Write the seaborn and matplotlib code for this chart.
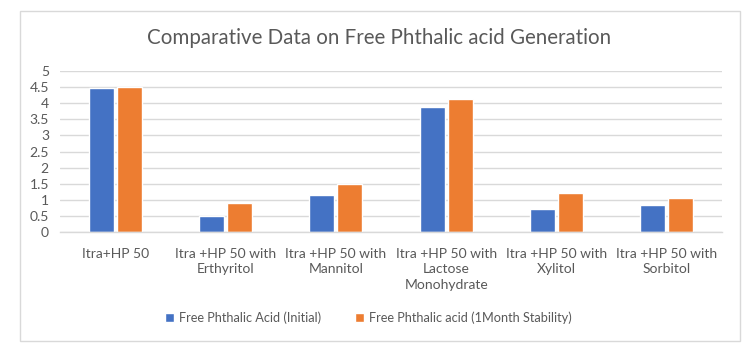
import matplotlib
matplotlib.use("Agg")
import matplotlib.pyplot as plt
import seaborn as sns
import pandas as pd
from matplotlib.patches import Rectangle

categories = ["Itra+HP 50", "Itra +HP 50 with\nErthyritol", "Itra +HP 50 with\nMannitol",
              "Itra +HP 50 with\nLactose\nMonohydrate", "Itra +HP 50 with\nXylitol",
              "Itra +HP 50 with\nSorbitol"]
series_names = ["Free Phthalic Acid (Initial)", "Free Phthalic acid (1Month Stability)"]
initial = [4.45, 0.50, 1.15, 3.88, 0.72, 0.85]
stability = [4.51, 0.91, 1.48, 4.12, 1.22, 1.06]
yticks = [0, 0.5, 1, 1.5, 2, 2.5, 3, 3.5, 4, 4.5, 5]
ytick_labels = ["0", "0.5", "1", "1.5", "2", "2.5", "3", "3.5", "4", "4.5", "5"]
title = "Comparative Data on Free Phthalic acid Generation"

df = pd.DataFrame({
    "Category": categories * 2,
    "Series": [series_names[0]] * len(categories) + [series_names[1]] * len(categories),
    "Value": initial + stability,
})

sns.set_theme(style="white")
plt.rcParams["font.family"] = ["Lato", "DejaVu Sans"]
text_color = "#595959"

fig = plt.figure(figsize=(7.52, 3.47), dpi=100)
ax = fig.add_axes([60 / 752, 1 - 232.3 / 347, 662 / 752, 161.6 / 347])

sns.barplot(data=df, x="Category", y="Value", hue="Series", order=categories,
            hue_order=series_names, palette=["#4472C4", "#ED7D31"],
            width=0.51, gap=0.11, ax=ax, legend=True, saturation=1)

ax.set_ylim(0, 5)
ax.set_yticks(yticks)
ax.set_yticklabels(ytick_labels)
ax.yaxis.grid(True, color="#D9D9D9", linewidth=1)
ax.set_axisbelow(True)
for s in ["top", "right", "left"]:
    ax.spines[s].set_visible(False)
ax.spines["bottom"].set_color("#D9D9D9")
ax.spines["bottom"].set_linewidth(1)
ax.tick_params(axis="both", length=0, labelsize=10, colors=text_color)
ax.tick_params(axis="x", pad=11)
ax.tick_params(axis="y", pad=8)
ax.set_xlabel("")
ax.set_ylabel("")
for lbl in ax.get_xticklabels():
    lbl.set_linespacing(1.35)
    lbl.set_verticalalignment("top")

fig.text(379.5 / 752, 1 - 38 / 347, title, ha="center", va="center", fontsize=14.8, color=text_color)

handles, labels = ax.get_legend_handles_labels()
ax.legend_.remove()
fig.legend(handles, labels, loc="center", bbox_to_anchor=(0.49, 1 - 318 / 347), ncol=2,
           frameon=False, fontsize=9.2, handlelength=0.7, handleheight=0.7,
           handletextpad=0.4, columnspacing=2.6, labelcolor=text_color)

fig.patches.append(Rectangle((20 / 752, 6 / 347), 720 / 752, 330 / 347, transform=fig.transFigure,
                             fill=False, edgecolor="#D9D9D9", linewidth=1))

fig.savefig("out.png", dpi=100)
